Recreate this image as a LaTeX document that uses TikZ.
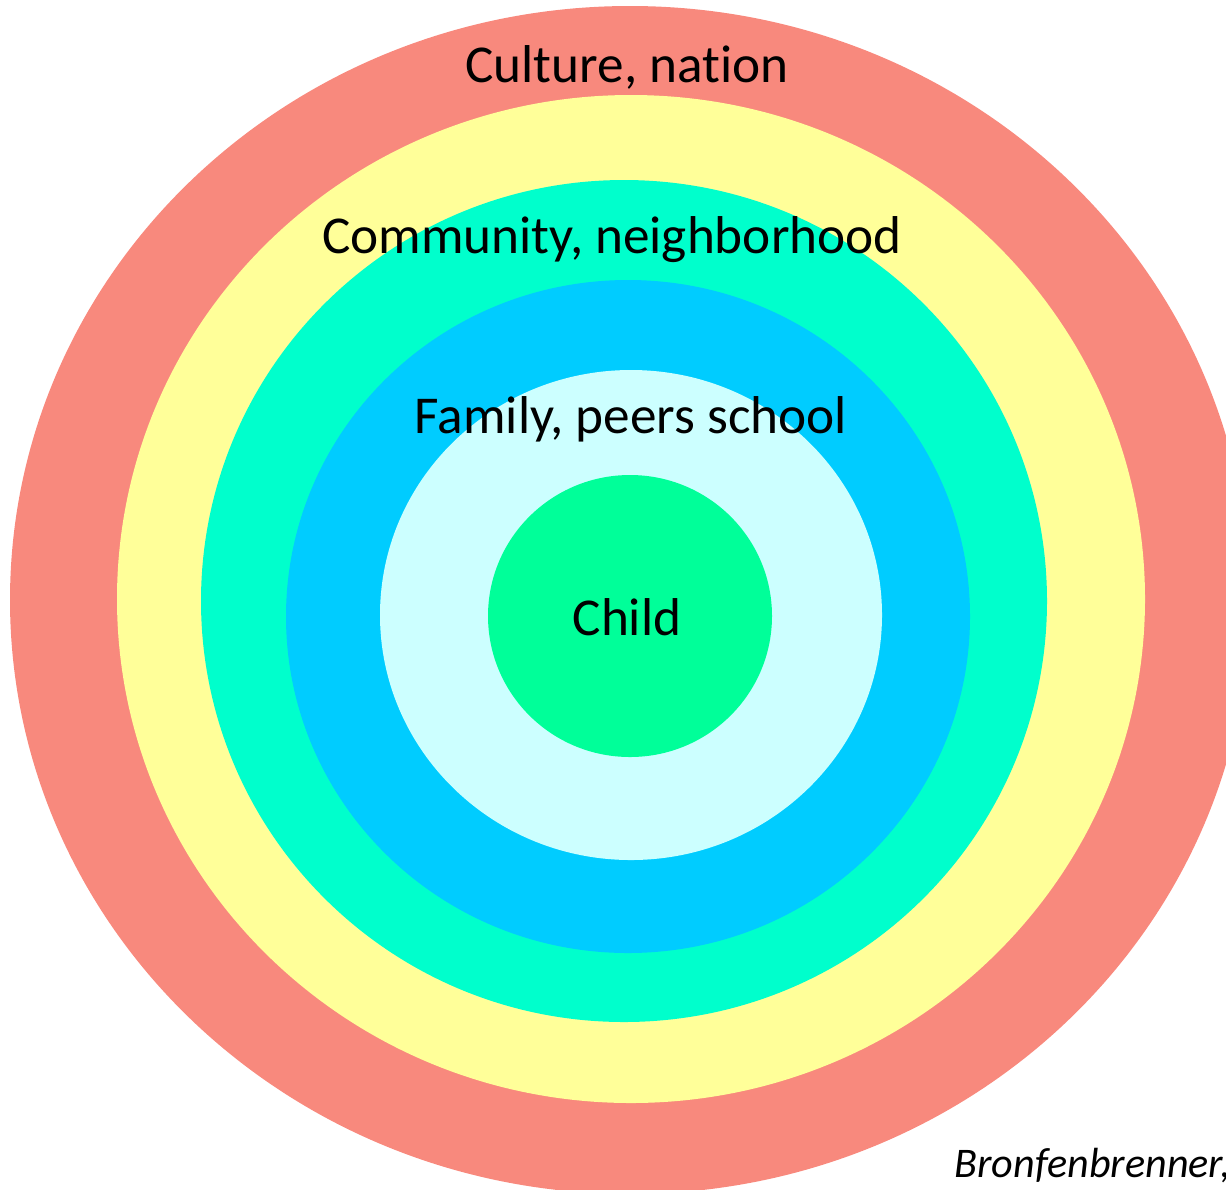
\documentclass[tikz,border=0pt]{standalone}
\usepackage{xcolor}
\usepackage{fontspec}
\usepackage{tikz}
\setmainfont[Ligatures=NoCommon]{Carlito}
\definecolor{culture-red}{RGB}{248, 137, 125}
\definecolor{community-yellow}{RGB}{255, 255, 153}
\definecolor{exo-teal}{RGB}{0, 255, 204}
\definecolor{meso-blue}{RGB}{0, 204, 255}
\definecolor{micro-cyan}{RGB}{204, 255, 255}
\definecolor{child-green}{RGB}{0, 255, 153}
\tikzset{
    ringlabel/.style={anchor=base, inner sep=0pt, font=\fontsize{30.3}{34}\selectfont},
}

\begin{document}
\begin{tikzpicture}
    \useasboundingbox (0,0) rectangle (24.52,-23.78);
    \fill[culture-red] (12.60,-12.00) ellipse [x radius=12.40cm, y radius=11.88cm];
    \fill[community-yellow] (12.62,-11.98) ellipse [x radius=10.28cm, y radius=10.08cm];
    \fill[exo-teal] (12.48,-12.02) ellipse [x radius=8.46cm, y radius=8.42cm];
    \fill[meso-blue] (12.56,-12.33) ellipse [x radius=6.84cm, y radius=6.73cm];
    \fill[micro-cyan] (12.62,-12.30) ellipse [x radius=5.02cm, y radius=4.90cm];
    \fill[child-green] (12.60,-12.32) ellipse [x radius=2.84cm, y radius=2.82cm];

    \node[ringlabel] (culture) at (12.54,-1.64) {Culture, nation};
    \node[ringlabel] (community) at (12.24,-5.06) {Community, neighborhood};
    \node[ringlabel] (family) at (12.62,-8.66) {Family, peers school};
    \node[ringlabel] (child) at (12.54,-12.70) {Child};
    \node[anchor=base west, inner sep=0pt, font=\fontsize{24}{28}\selectfont\itshape] (source) at (19.08,-23.54) {Bronfenbrenner,};
\end{tikzpicture}
\end{document}
